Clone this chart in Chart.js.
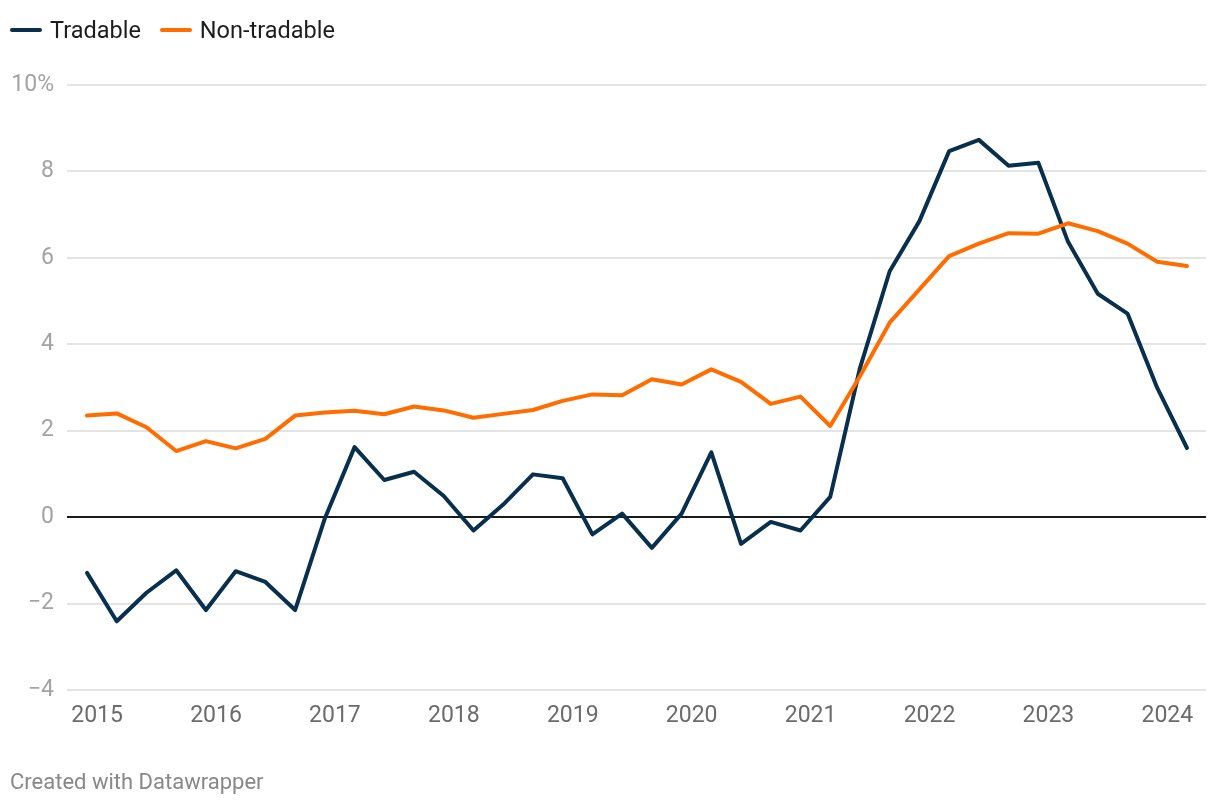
<!DOCTYPE html>
<html>
<head>
<meta charset="utf-8">
<script src="https://cdn.jsdelivr.net/npm/chart.js@4.4.1/dist/chart.umd.min.js"></script>
<style>
  html, body { margin: 0; padding: 0; background: #fff; }
  body { width: 1220px; height: 806px; position: relative; overflow: hidden; font-family: Roboto, sans-serif; }
  #wrap { position: absolute; left: 0; top: 0; width: 1220px; height: 806px; }
  .legend { position: absolute; left: 10px; top: 16px; display: flex; align-items: center; font-size: 23.5px; color: #1d1d1d; }
  .legend .item { display: flex; align-items: center; margin-right: 19px; }
  .legend .swatch { width: 32px; height: 4px; border-radius: 2px; margin-right: 8px; }
  .footer { position: absolute; left: 10px; top: 769px; font-size: 22px; color: #888; }
</style>
</head>
<body>
<div id="wrap"><canvas id="chart" width="1220" height="806"></canvas></div>
<div class="legend">
  <div class="item"><span class="swatch" style="background:#08304d"></span>Tradable</div>
  <div class="item"><span class="swatch" style="background:#ff6c00"></span>Non-tradable</div>
</div>
<div class="footer">Created with Datawrapper</div>
<script>
// Quarterly series, 2015 Q1 - 2024 Q2 (% change)
const quarters = [
    '2015 Q1', '2015 Q2', '2015 Q3', '2015 Q4',
    '2016 Q1', '2016 Q2', '2016 Q3', '2016 Q4',
    '2017 Q1', '2017 Q2', '2017 Q3', '2017 Q4',
    '2018 Q1', '2018 Q2', '2018 Q3', '2018 Q4',
    '2019 Q1', '2019 Q2', '2019 Q3', '2019 Q4',
    '2020 Q1', '2020 Q2', '2020 Q3', '2020 Q4',
    '2021 Q1', '2021 Q2', '2021 Q3', '2021 Q4',
    '2022 Q1', '2022 Q2', '2022 Q3', '2022 Q4',
    '2023 Q1', '2023 Q2', '2023 Q3', '2023 Q4',
    '2024 Q1', '2024 Q2'
];

const tradable = [
    -1.29, -2.41, -1.75, -1.23, -2.15, -1.25, -1.50, -2.15,
    -0.03, 1.62, 0.86, 1.05, 0.49, -0.31, 0.29, 0.99,
    0.90, -0.40, 0.08, -0.71, 0.08, 1.50, -0.62, -0.11,
    -0.31, 0.47, 3.45, 5.69, 6.85, 8.47, 8.73, 8.13,
    8.20, 6.37, 5.17, 4.71, 2.99, 1.60
];

const nonTradable = [
    2.35, 2.40, 2.08, 1.53, 1.76, 1.59, 1.81, 2.35,
    2.42, 2.46, 2.38, 2.56, 2.47, 2.30, 2.39, 2.48,
    2.69, 2.84, 2.82, 3.19, 3.07, 3.42, 3.13, 2.62,
    2.79, 2.11, 3.26, 4.50, 5.27, 6.04, 6.33, 6.57,
    6.56, 6.80, 6.62, 6.33, 5.91, 5.81
];

const yearLabels = ['2015', '2016', '2017', '2018', '2019', '2020', '2021', '2022', '2023', '2024'];
const yTicks = [-4, -2, 0, 2, 4, 6, 8, 10];

const NAVY = '#08304d';
const ORANGE = '#ff6c00';
const LABEL_SHIFT = 0.34; // year labels sit a bit right of each Q1 point

const toPoints = (arr) => arr.map((v, i) => ({ x: i, y: v }));

new Chart(document.getElementById('chart'), {
    type: 'line',
    data: {
        datasets: [
            {
                label: 'Non-tradable',
                data: toPoints(nonTradable),
                borderColor: ORANGE,
                borderWidth: 4,
                pointRadius: 0,
                tension: 0,
                borderJoinStyle: 'round',
                borderCapStyle: 'round'
            },
            {
                label: 'Tradable',
                data: toPoints(tradable),
                borderColor: NAVY,
                borderWidth: 4,
                pointRadius: 0,
                tension: 0,
                borderJoinStyle: 'round',
                borderCapStyle: 'round'
            }
        ]
    },
    options: {
        responsive: false,
        animation: false,
        layout: { padding: { top: 85, right: 14, left: 0, bottom: 0 } },
        plugins: {
            legend: { display: false },
            tooltip: { enabled: false }
        },
        scales: {
            x: {
                type: 'linear',
                min: -0.673,
                max: 37.64,
                grid: { display: false, drawTicks: false },
                border: { display: false },
                afterBuildTicks: (scale) => {
                    scale.ticks = yearLabels.map((y, k) => ({ value: k * 4 + LABEL_SHIFT }));
                },
                afterFit: (scale) => { scale.height = 116; },
                ticks: {
                    autoSkip: false,
                    maxRotation: 0,
                    padding: 12,
                    color: '#6b6b6b',
                    font: { family: 'Roboto', size: 23 },
                    callback: (value, index) => yearLabels[index]
                }
            },
            y: {
                min: -4,
                max: 10,
                afterBuildTicks: (scale) => {
                    scale.ticks = yTicks.map(v => ({ value: v }));
                },
                afterFit: (scale) => { scale.width = 67; },
                grid: {
                    drawTicks: false,
                    lineWidth: 2,
                    color: (ctx) => ctx.tick && ctx.tick.value === 0 ? '#1a1a1a' : '#e4e4e4'
                },
                border: { display: false },
                ticks: {
                    padding: 13,
                    color: '#a3a3a3',
                    font: { family: 'Roboto', size: 23 },
                    callback: (v) => v === 10 ? '10%' : (v < 0 ? '\u2212' + Math.abs(v) : String(v))
                }
            }
        }
    }
});
</script>
</body>
</html>
